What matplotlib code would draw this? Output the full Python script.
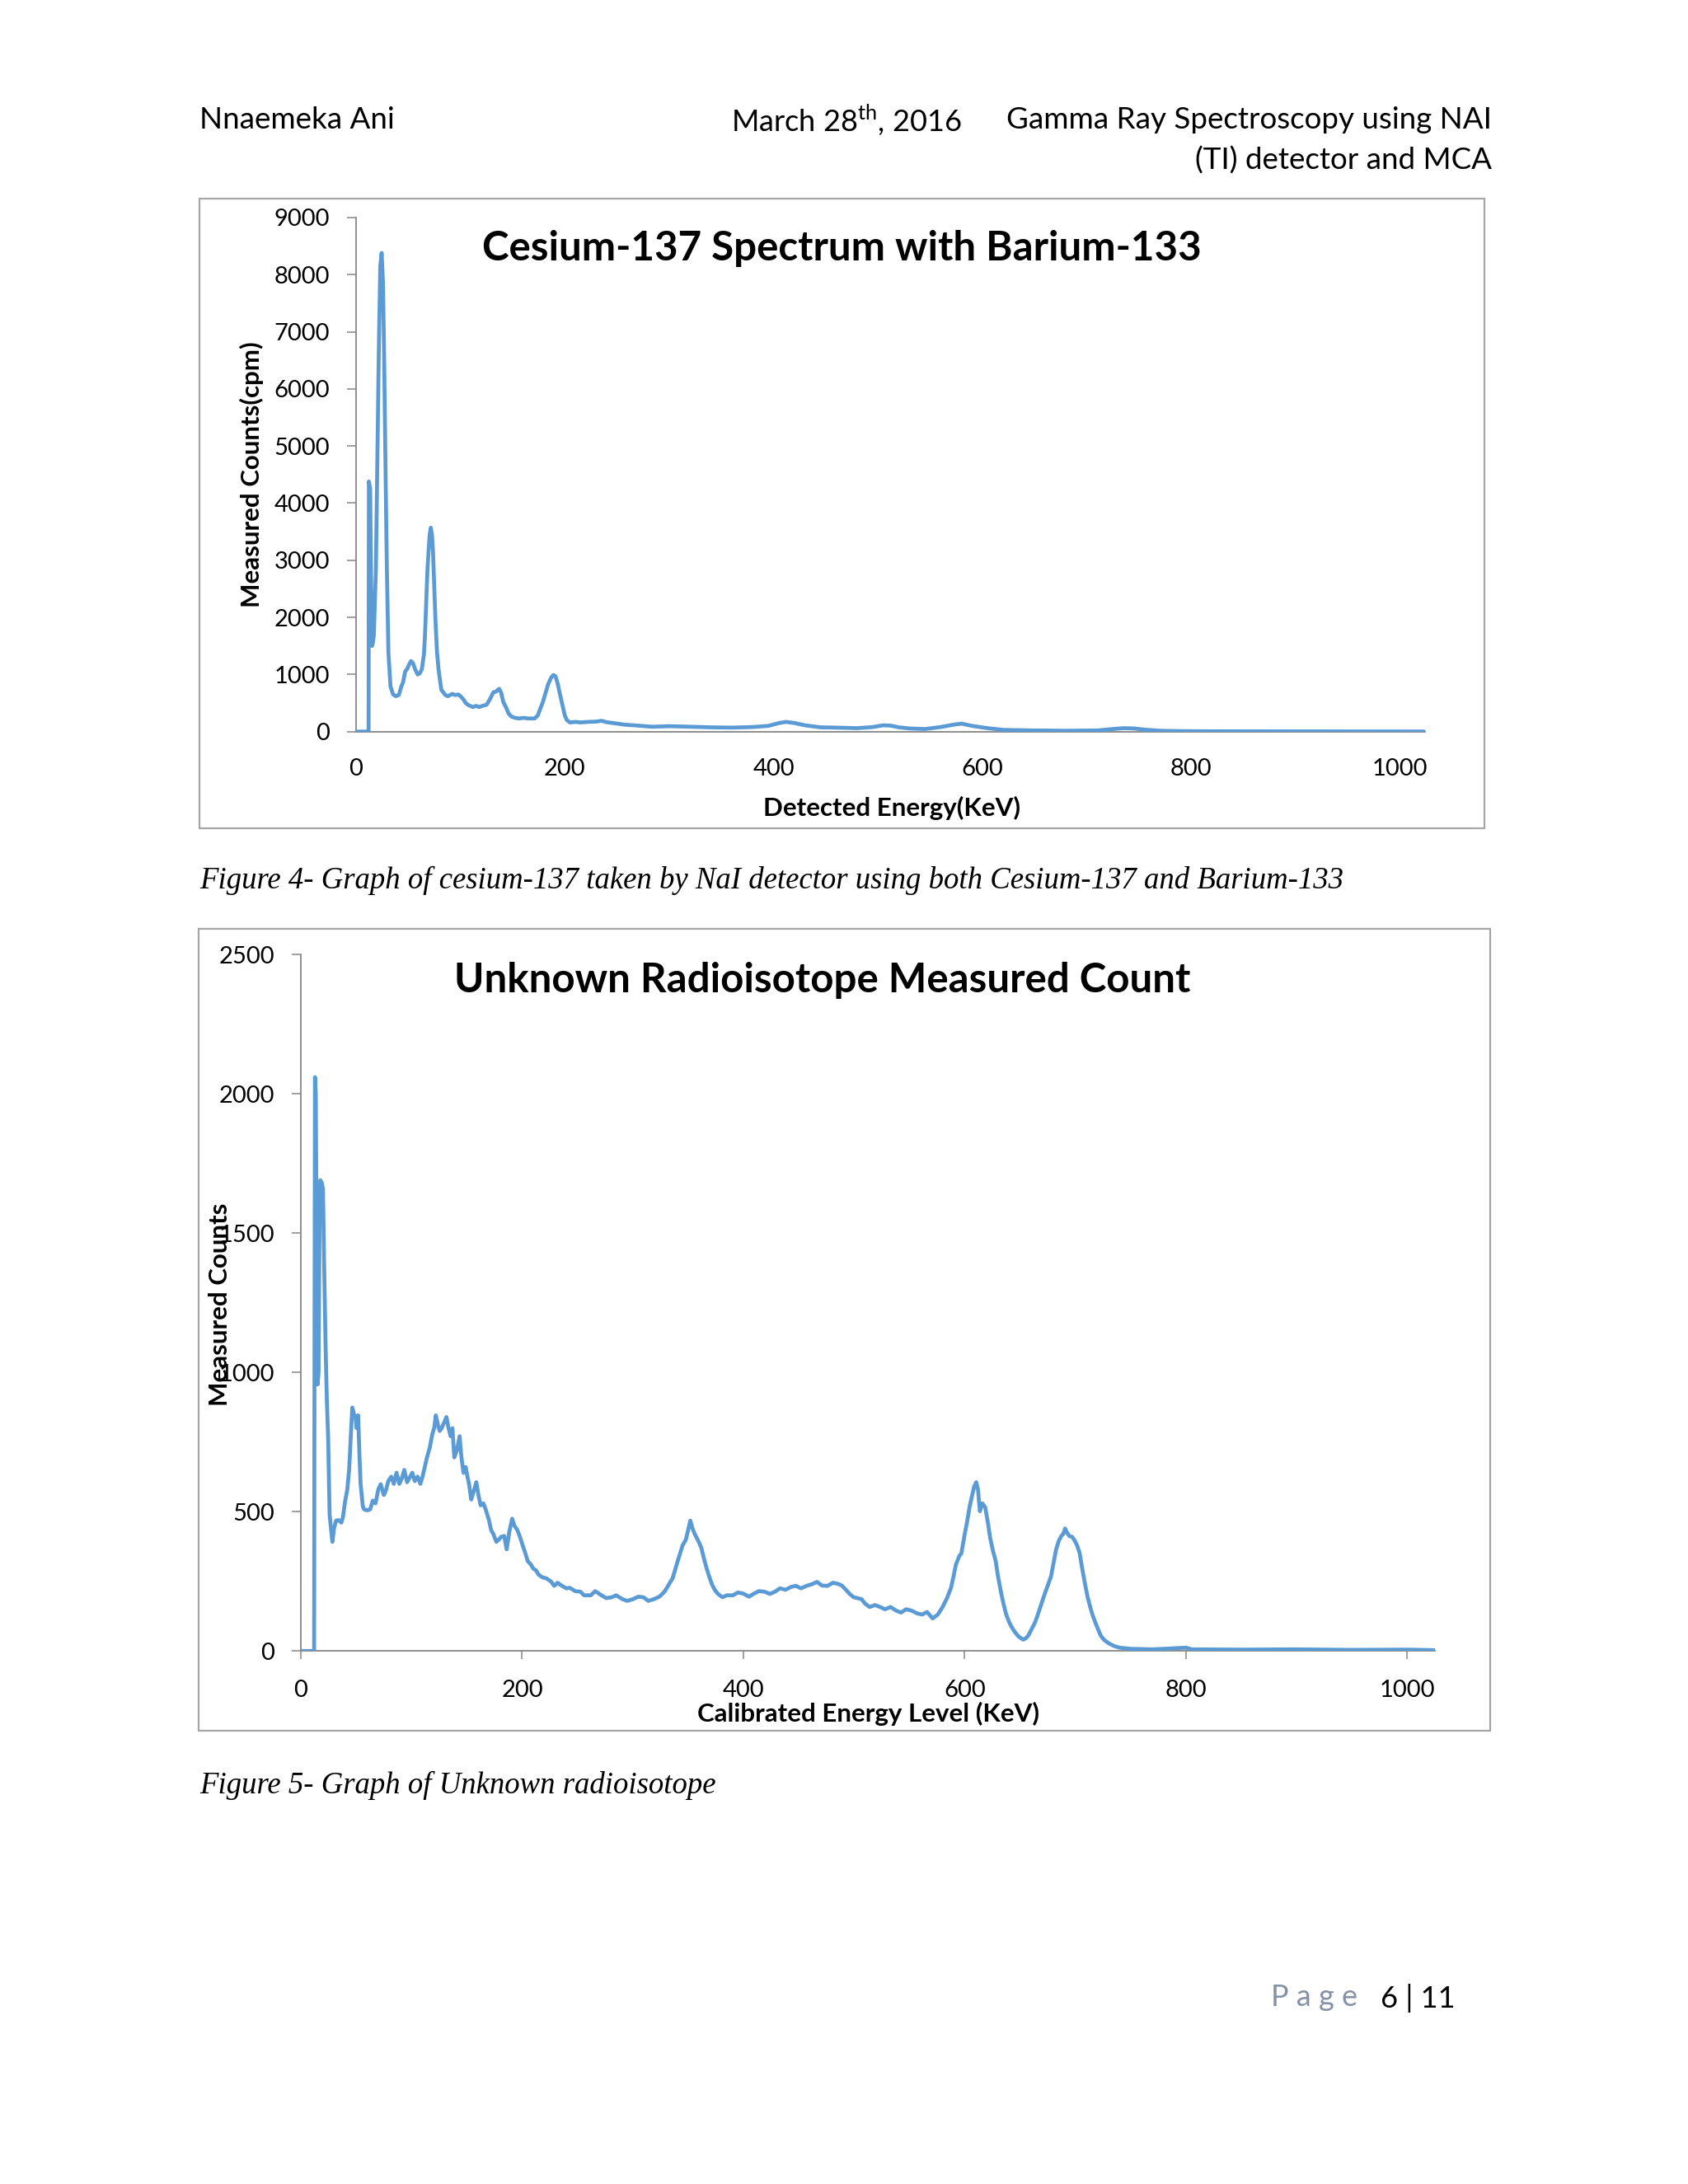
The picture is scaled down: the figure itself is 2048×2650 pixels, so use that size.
"""
Page 6 of the gamma ray spectroscopy report: two NaI spectra drawn as Excel-like charts.
"""

import matplotlib
matplotlib.use("Agg")
import matplotlib.pyplot as plt
from matplotlib.patches import Rectangle

plt.rcParams["font.family"] = ["Lato", "DejaVu Sans"]
plt.rcParams["mathtext.fontset"] = "custom"
plt.rcParams["mathtext.rm"] = "Lato"

W, H = 2048, 2650
LINE_BLUE = "#5B9BD5"
AXIS_GRAY = "#868686"
BOX_GRAY = "#a6a6a6"

# --- Figure 4: Cs-137 with Ba-133 (energy in keV, counts in cpm) ---
cs_energy = [
    0, 12, 12.3, 13.5, 14.5, 15.3, 16, 17, 19, 20.5, 21.8, 23.2, 24.5, 25.8, 26.8,
    28.2, 29.5, 31, 33, 35.5, 38, 41, 43.5, 45, 47, 49, 51, 52.6, 54.5, 56.6, 59,
    61, 63, 65, 66, 68.4, 70.5, 71.6, 72.7, 73.7, 75, 76, 77.5, 79, 81.6, 85.5,
    88, 92, 95, 98, 100, 103, 105, 108, 112, 115, 118, 121, 125, 128, 131.6, 134,
    137, 139, 141, 144, 146, 149, 152.6, 156, 160.5, 165, 171, 174, 176, 179,
    181.6, 184, 187, 189, 191, 193, 195, 197.5, 200, 202, 205, 210, 215, 222,
    230, 235, 240, 250, 258, 270, 284, 300, 310, 320, 340, 360, 380, 395, 405,
    412, 420, 430, 445, 460, 480, 495, 505, 512, 520, 530, 545, 560, 572, 580,
    590, 605, 620, 650, 680, 710, 725, 735, 745, 755, 770, 790, 820, 900, 1000,
    1023,
]
cs_counts = [
    0, 0, 4380, 4250, 2500, 1500, 1550, 1680, 2850, 4900, 6680, 8150, 8380, 7850, 6680,
    4620, 2850, 1380, 790, 650, 620, 640, 800, 860, 1050, 1100, 1180, 1235, 1200, 1090, 1000,
    1020, 1090, 1350, 1680, 2850, 3450, 3570, 3450, 3150, 2500, 1970, 1400, 1090, 735, 640,
    620, 660, 640, 650, 620, 560, 500, 460, 430, 450, 430, 450, 470, 560, 690, 700,
    750, 680, 520, 410, 320, 260, 240, 230, 240, 230, 230, 280, 380, 520,
    680, 830, 950, 990, 970, 850, 680, 480, 280, 200, 160, 170, 160, 170,
    175, 190, 165, 140, 120, 105, 85, 95, 90, 85, 75, 70, 80, 100, 150,
    170, 150, 110, 75, 70, 60, 80, 110, 105, 75, 55, 45, 80, 120, 140,
    100, 60, 30, 20, 15, 20, 45, 60, 55, 35, 15, 8, 5, 3, 2,
    2,
]
cs_yticks = [0, 1000, 2000, 3000, 4000, 5000, 6000, 7000, 8000, 9000]
cs_xticks = [0, 200, 400, 600, 800, 1000]

# --- Figure 5: unknown radioisotope (calibrated energy in keV, counts) ---
unk_energy = [
    0, 12, 12.4, 12.8, 13.5, 14.5, 15.2, 16, 17, 17.6, 19, 20, 21, 22.3, 23.5, 24.7,
    26, 28.5, 30, 31.8, 34, 36.6, 38, 40, 42, 43.7, 45, 46.5, 48, 49.4, 50.5, 51.8,
    53, 54, 56, 57, 60, 62.7, 65, 67.5, 70, 72.2, 75, 77, 79, 81.7, 84, 86.5, 89,
    91.2, 93.5, 96, 98, 100.7, 103, 105.5, 108, 110, 112, 114, 116.5, 118.8, 120.5,
    122, 124, 125.5, 127, 129.5, 131.6, 133.5, 135.4, 137, 138.7, 141, 143.5, 145,
    147, 149, 150.6, 152, 154, 156, 158.6, 160.5, 162.5, 165, 167, 170, 172, 174,
    176.7, 179, 181, 183.8, 186, 188.5, 191, 193, 195.7, 198, 200.5, 203, 205, 208,
    210, 212.5, 214.7, 218, 221.8, 226, 229, 232, 236, 240, 243, 248, 252.7, 256,
    262, 266, 271.7, 276, 281, 285, 290.7, 295, 300, 305, 309.7, 314, 319, 324,
    328.7, 332, 336, 340.6, 345, 348, 350, 352, 354, 356, 359.6, 362, 364, 366.5,
    369, 371.5, 374, 377, 381, 385, 390.5, 395, 400, 405, 409.5, 414, 419, 424,
    428.5, 433, 438, 443, 447.5, 452, 457, 462, 466.5, 471, 476, 481, 485.5, 489,
    492.6, 496, 499.7, 503, 506.8, 510, 514, 519, 523.5, 528, 533, 538, 542.5, 547,
    552, 557, 561.5, 566, 571, 575.7, 580, 584, 587.6, 590, 592, 595, 597, 600,
    602, 604.5, 606.6, 608.5, 610.4, 612, 613.7, 616, 618.5, 621, 623, 625.5, 628,
    630, 632.7, 635, 637.5, 640, 642, 645, 648, 650, 652.7, 655, 657.4, 660, 663.6,
    666, 668.3, 671, 673, 675.5, 678, 680.5, 682.6, 685, 687.3, 689, 690.7, 692.5,
    694.5, 697, 699, 701.5, 703.9, 706, 708.7, 711, 713.4, 715.5, 718, 720.5, 723,
    726, 730, 735, 740, 750, 770, 800, 805, 850, 900, 950, 1000, 1025,
]
unk_counts = [
    0, 0, 1200, 2060, 2000, 1300, 957, 1000, 1600, 1690, 1680, 1660, 1400, 1108, 900, 764,
    489, 392, 440, 468, 470, 461, 480, 537, 580, 654, 760, 874, 850, 840, 800, 846,
    700, 599, 520, 509, 505, 509, 540, 530, 580, 599, 560, 578, 610, 626, 600, 640, 600,
    619, 650, 606, 620, 640, 610, 626, 600, 626, 660, 695, 730, 778, 800,
    846, 810, 790, 798, 820, 840, 800, 771, 800, 695, 720, 771, 700,
    640, 660, 626, 600, 544, 570, 606, 560, 523, 530, 509, 470, 434, 420,
    392, 400, 410, 413, 365, 430, 475, 450, 434, 410, 379, 350, 323, 310,
    296, 290, 275, 265, 261, 250, 234, 245, 234, 225, 227, 215, 213, 200,
    200, 215, 200, 190, 193, 200, 186, 180, 186, 195, 193, 180, 186, 195,
    213, 235, 261, 323, 379, 400, 434, 468, 440, 420, 392, 370, 337, 300,
    268, 240, 220, 205, 193, 200, 200, 210, 206, 195, 206, 215, 213, 205,
    213, 225, 220, 230, 234, 225, 234, 240, 248, 235, 234, 245, 241, 235,
    220, 205, 193, 190, 186, 170, 158, 165, 158, 150, 158, 145, 138, 150,
    145, 135, 131, 140, 117, 131, 158, 190, 227, 270, 310, 340, 351, 420,
    461, 520, 557, 590, 606, 580, 502, 530, 516, 460, 406, 360, 323,
    270, 213, 170, 131, 105, 89, 70, 55, 48, 41, 45, 55, 75, 103,
    130, 158, 190, 213, 240, 268, 320, 365, 395, 413, 420, 440, 425,
    413, 410, 399, 380, 351, 300, 241, 195, 158, 130, 103, 78, 55,
    40, 28, 18, 12, 8, 6, 12, 6, 5, 6, 4, 5, 3,
]
unk_yticks = [0, 500, 1000, 1500, 2000, 2500]
unk_xticks = [0, 200, 400, 600, 800, 1000]


def fx(x):
    return x / W


def fy(y):
    return 1 - y / H


def add_box(fig, x0, y0, x1, y1):
    fig.add_artist(Rectangle((fx(x0), fy(y1)), (x1 - x0) / W, (y1 - y0) / H,
                             transform=fig.transFigure, fill=False,
                             edgecolor=BOX_GRAY, lw=1.6))


def spectrum_axes(fig, left, right, bottom, top, energy, counts, xmax, ymax,
                  xticks, yticks, xtick_len, xpad):
    ax = fig.add_axes([fx(left), fy(bottom), (right - left) / W, (bottom - top) / H])
    ax.plot(energy, counts, color=LINE_BLUE, lw=3.4, solid_joinstyle="round",
            solid_capstyle="round", zorder=3)
    ax.set_xlim(0, xmax)
    ax.set_ylim(0, ymax)
    ax.set_xticks(xticks)
    ax.set_yticks(yticks)
    for side in ("top", "right"):
        ax.spines[side].set_visible(False)
    for side in ("left", "bottom"):
        ax.spines[side].set_color(AXIS_GRAY)
        ax.spines[side].set_linewidth(1.3)
    ax.tick_params(axis="y", direction="out", length=8, width=1.1, color=AXIS_GRAY,
                   pad=15, labelsize=21)
    ax.tick_params(axis="x", direction="out", length=xtick_len, width=1.1,
                   color=AXIS_GRAY, pad=xpad, labelsize=21)
    ax.patch.set_alpha(0)
    return ax


fig = plt.figure(figsize=(W / 100, H / 100), dpi=100)
fig.patch.set_facecolor("white")

# page header
fig.text(fx(242), fy(146), "Nnaemeka Ani", fontsize=26.5, va="center", ha="left")
fig.text(fx(887), fy(146), r"March 28$^{\mathrm{th}}$, 2016", fontsize=26,
         va="center", ha="left")
fig.text(fx(1810), fy(146), "Gamma Ray Spectroscopy using NAI", fontsize=26.5,
         va="center", ha="right")
fig.text(fx(1810), fy(195), "(TI) detector and MCA", fontsize=26.5,
         va="center", ha="right")

# figure 4
add_box(fig, 242, 241, 1801, 1005)
spectrum_axes(fig, 432, 1729, 887.7, 264, cs_energy, cs_counts, 1024, 9000,
              cs_xticks, cs_yticks, 0, 23)
fig.text(fx(1021), fy(301), "Cesium-137 Spectrum with Barium-133", fontsize=35.5,
         fontweight="bold", ha="center", va="center")
fig.text(fx(1082), fy(980), "Detected Energy(KeV)", fontsize=22.5,
         fontweight="bold", ha="center", va="center")
fig.text(fx(305), fy(576), "Measured Counts(cpm)", fontsize=22.5,
         fontweight="bold", ha="center", va="center", rotation=90)
fig.text(fx(242), fy(1068),
         "Figure 4- Graph of cesium-137 taken by NaI detector using both Cesium-137 and Barium-133",
         fontsize=26.5, family="Liberation Serif", style="italic", ha="left", va="center")

# figure 5
add_box(fig, 241, 1127, 1808, 2100)
spectrum_axes(fig, 365, 1741, 2003.3, 1158.3, unk_energy, unk_counts, 1025, 2500,
              unk_xticks, unk_yticks, 7, 18)
fig.text(fx(998), fy(1190), "Unknown Radioisotope Measured Count", fontsize=35.5,
         fontweight="bold", ha="center", va="center")
fig.text(fx(1053), fy(2079), "Calibrated Energy Level (KeV)", fontsize=22.5,
         fontweight="bold", ha="center", va="center")
# the reference label sits on top of the 1000/1500 tick labels; kept in place
fig.text(fx(267), fy(1583), "Measured Counts", fontsize=22.5,
         fontweight="bold", ha="center", va="center", rotation=90)
fig.text(fx(242), fy(2166), "Figure 5- Graph of Unknown radioisotope",
         fontsize=26.5, family="Liberation Serif", style="italic", ha="left", va="center")

# page footer
fig.text(fx(1542), fy(2424), "P a g e", fontsize=26, color="#8592a6",
         ha="left", va="center")
fig.text(fx(1766), fy(2424), "6 | 11", fontsize=26, ha="right", va="center")

fig.savefig("out.png", dpi=100)
